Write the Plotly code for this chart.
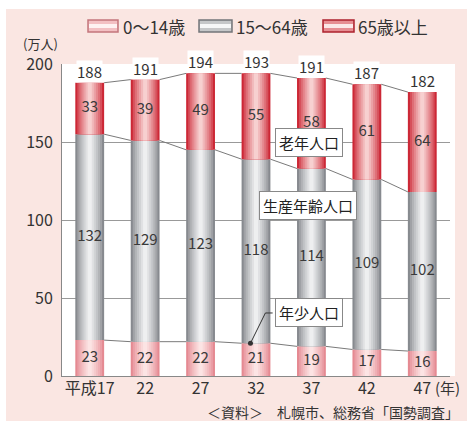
import plotly.graph_objects as go

# ---------------- data ----------------
categories = ["平成17", "22", "27", "32", "37", "42", "47"]
series_names = ["0～14歳", "15～64歳", "65歳以上"]
age_0_14 = [23, 22, 22, 21, 19, 17, 16]
age_15_64 = [132, 129, 123, 118, 114, 109, 102]
age_65_plus = [33, 39, 49, 55, 58, 61, 64]
totals = [188, 191, 194, 193, 191, 187, 182]
y_ticks = [0, 50, 100, 150, 200]

# ---------------- style ----------------
FONT = "Noto Sans CJK JP"
W, H = 467, 421
ML, MR, MT, MB = 62, 17, 64, 45
PW, PH = W - ML - MR, H - MT - MB
BAR_W = 0.52
N_STEPS = 7

series_values = [age_0_14, age_15_64, age_65_plus]
edge_cols = [(229, 138, 146), (135, 138, 143), (204, 40, 54)]
center_cols = [(252, 228, 228), (238, 239, 240), (247, 208, 208)]


def px(x):
    return (x - ML) / PW


def py(y):
    return (H - MB - y) / PH


def mix(a, b, t):
    return "rgb(%d,%d,%d)" % tuple(round(a[i] + (b[i] - a[i]) * t) for i in range(3))


idx = list(range(len(categories)))
fig = go.Figure()

# stacked bars with a stepped horizontal "cylinder" gradient
bases = [0] * len(idx)
cum_tops = []
for s, vals in enumerate(series_values):
    for k in range(N_STEPS):
        t = k / (N_STEPS - 1)
        fig.add_trace(go.Bar(
            x=idx, y=vals, base=bases, width=BAR_W * (1 - k / N_STEPS),
            marker=dict(color=mix(edge_cols[s], center_cols[s], t ** 0.8), line=dict(width=0)),
            name=series_names[s], showlegend=False,
            hoverinfo="skip" if k else "x+y",
        ))
    # segment value labels
    fig.add_trace(go.Scatter(
        x=idx, y=[b + v / 2 for b, v in zip(bases, vals)],
        mode="text", text=[str(v) for v in vals],
        textfont=dict(family=FONT, size=15, color="#3a3a3a"),
        showlegend=False, hoverinfo="skip",
    ))
    bases = [b + v for b, v in zip(bases, vals)]
    cum_tops.append(list(bases))

# connecting lines between bar edges
for tops in cum_tops:
    lx, ly = [], []
    for i in range(len(idx) - 1):
        lx += [idx[i] + BAR_W / 2, idx[i + 1] - BAR_W / 2, None]
        ly += [tops[i], tops[i + 1], None]
    fig.add_trace(go.Scatter(x=lx, y=ly, mode="lines",
                             line=dict(color="#7a7a7a", width=1),
                             showlegend=False, hoverinfo="skip"))

annotations = []
# totals above bars
for i, t in zip(idx, totals):
    annotations.append(dict(x=i, y=cum_tops[-1][i], text=str(t), showarrow=False,
                            xanchor="center", yanchor="bottom", bgcolor="white", borderpad=0,
                            font=dict(family=FONT, size=15, color="#333")))

# boxed callouts
box_font = dict(family=FONT, size=15, color="#222")
for txt, x, y in [("老年人口", 3.95, 150), ("生産年齢人口", 3.93, 109), ("年少人口", 3.95, 40.4)]:
    annotations.append(dict(x=x, y=y, text=txt, showarrow=False, bgcolor="white",
                            xanchor="center", yanchor="middle",
                            bordercolor="#888", borderwidth=1, borderpad=3, font=box_font))

# leader for 年少人口
dot_x, dot_y = idx[3] - 0.1, age_0_14[3]
fig.add_trace(go.Scatter(x=[dot_x], y=[dot_y], mode="markers",
                         marker=dict(color="#333", size=5),
                         showlegend=False, hoverinfo="skip"))

shapes = [
    # pink page background and white plot panel
    dict(type="rect", xref="paper", yref="paper", x0=px(6), x1=px(470), y0=py(425), y1=py(9),
         fillcolor="#fae6e2", line=dict(width=0), layer="below"),
    dict(type="rect", xref="paper", yref="paper", x0=0, x1=px(455), y0=0, y1=1,
         fillcolor="white", line=dict(width=0), layer="below"),
    dict(type="path", xref="x", yref="y",
         path=f"M 3.30,40.4 L 3.17,40.4 L {dot_x},{dot_y}",
         line=dict(color="#333", width=1)),
]

# custom legend with wide swatches
leg = [(88, 118, 121), (199, 232, 234), (323, 354, 356)]
for s, (x0, x1, tx) in enumerate(leg):
    shapes.append(dict(type="rect", xref="paper", yref="paper",
                       x0=px(x0), x1=px(x1), y0=py(32), y1=py(20),
                       fillcolor=mix(edge_cols[s], center_cols[s], 0.6),
                       line=dict(color=mix(edge_cols[s], (0, 0, 0), 0.15), width=1.5)))
    shapes.append(dict(type="rect", xref="paper", yref="paper",
                       x0=px(x0 + 1), x1=px(x1 - 1), y0=py(28), y1=py(24),
                       fillcolor=mix(center_cols[s], (255, 255, 255), 0.5), line=dict(width=0)))
    annotations.append(dict(xref="paper", yref="paper", x=px(tx), y=py(26),
                            xanchor="left", yanchor="middle", text=series_names[s],
                            showarrow=False, font=dict(family=FONT, size=17, color="#333")))

annotations += [
    dict(xref="paper", yref="paper", x=px(40), y=py(43), xanchor="center", yanchor="middle",
         text="(万人)", showarrow=False, font=dict(family=FONT, size=13, color="#333")),
    dict(xref="paper", yref="paper", x=px(433), y=py(387), xanchor="left", yanchor="middle",
         text="(年)", showarrow=False, font=dict(family=FONT, size=15, color="#333")),
    dict(xref="paper", yref="paper", x=px(205), y=py(412), xanchor="left", yanchor="middle",
         text="＜資料＞　札幌市、総務省「国勢調査」", showarrow=False,
         font=dict(family=FONT, size=14, color="#333")),
]

fig.update_layout(
    width=W, height=H, margin=dict(l=ML, r=MR, t=MT, b=MB),
    barmode="overlay", showlegend=False,
    paper_bgcolor="white", plot_bgcolor="rgba(0,0,0,0)",
    font=dict(family=FONT, color="#333"),
    shapes=shapes, annotations=annotations,
    xaxis=dict(range=[-0.5, 6.5], tickvals=idx, ticktext=categories,
               showgrid=False, zeroline=False, showline=True, linecolor="#888",
               ticks="", tickfont=dict(family=FONT, size=16, color="#333"),
               ticklabelstandoff=-2),
    yaxis=dict(range=[0, 200], tickvals=y_ticks, showgrid=True, gridcolor="#999",
               gridwidth=1, zeroline=False, showline=True, linecolor="#888",
               ticks="", tickfont=dict(family=FONT, size=16, color="#333"),
               ticklabelstandoff=5),
)

fig.write_html("out.html", config={"displayModeBar": False},
               post_script="document.body.style.margin='0';document.body.style.overflow='hidden';")
